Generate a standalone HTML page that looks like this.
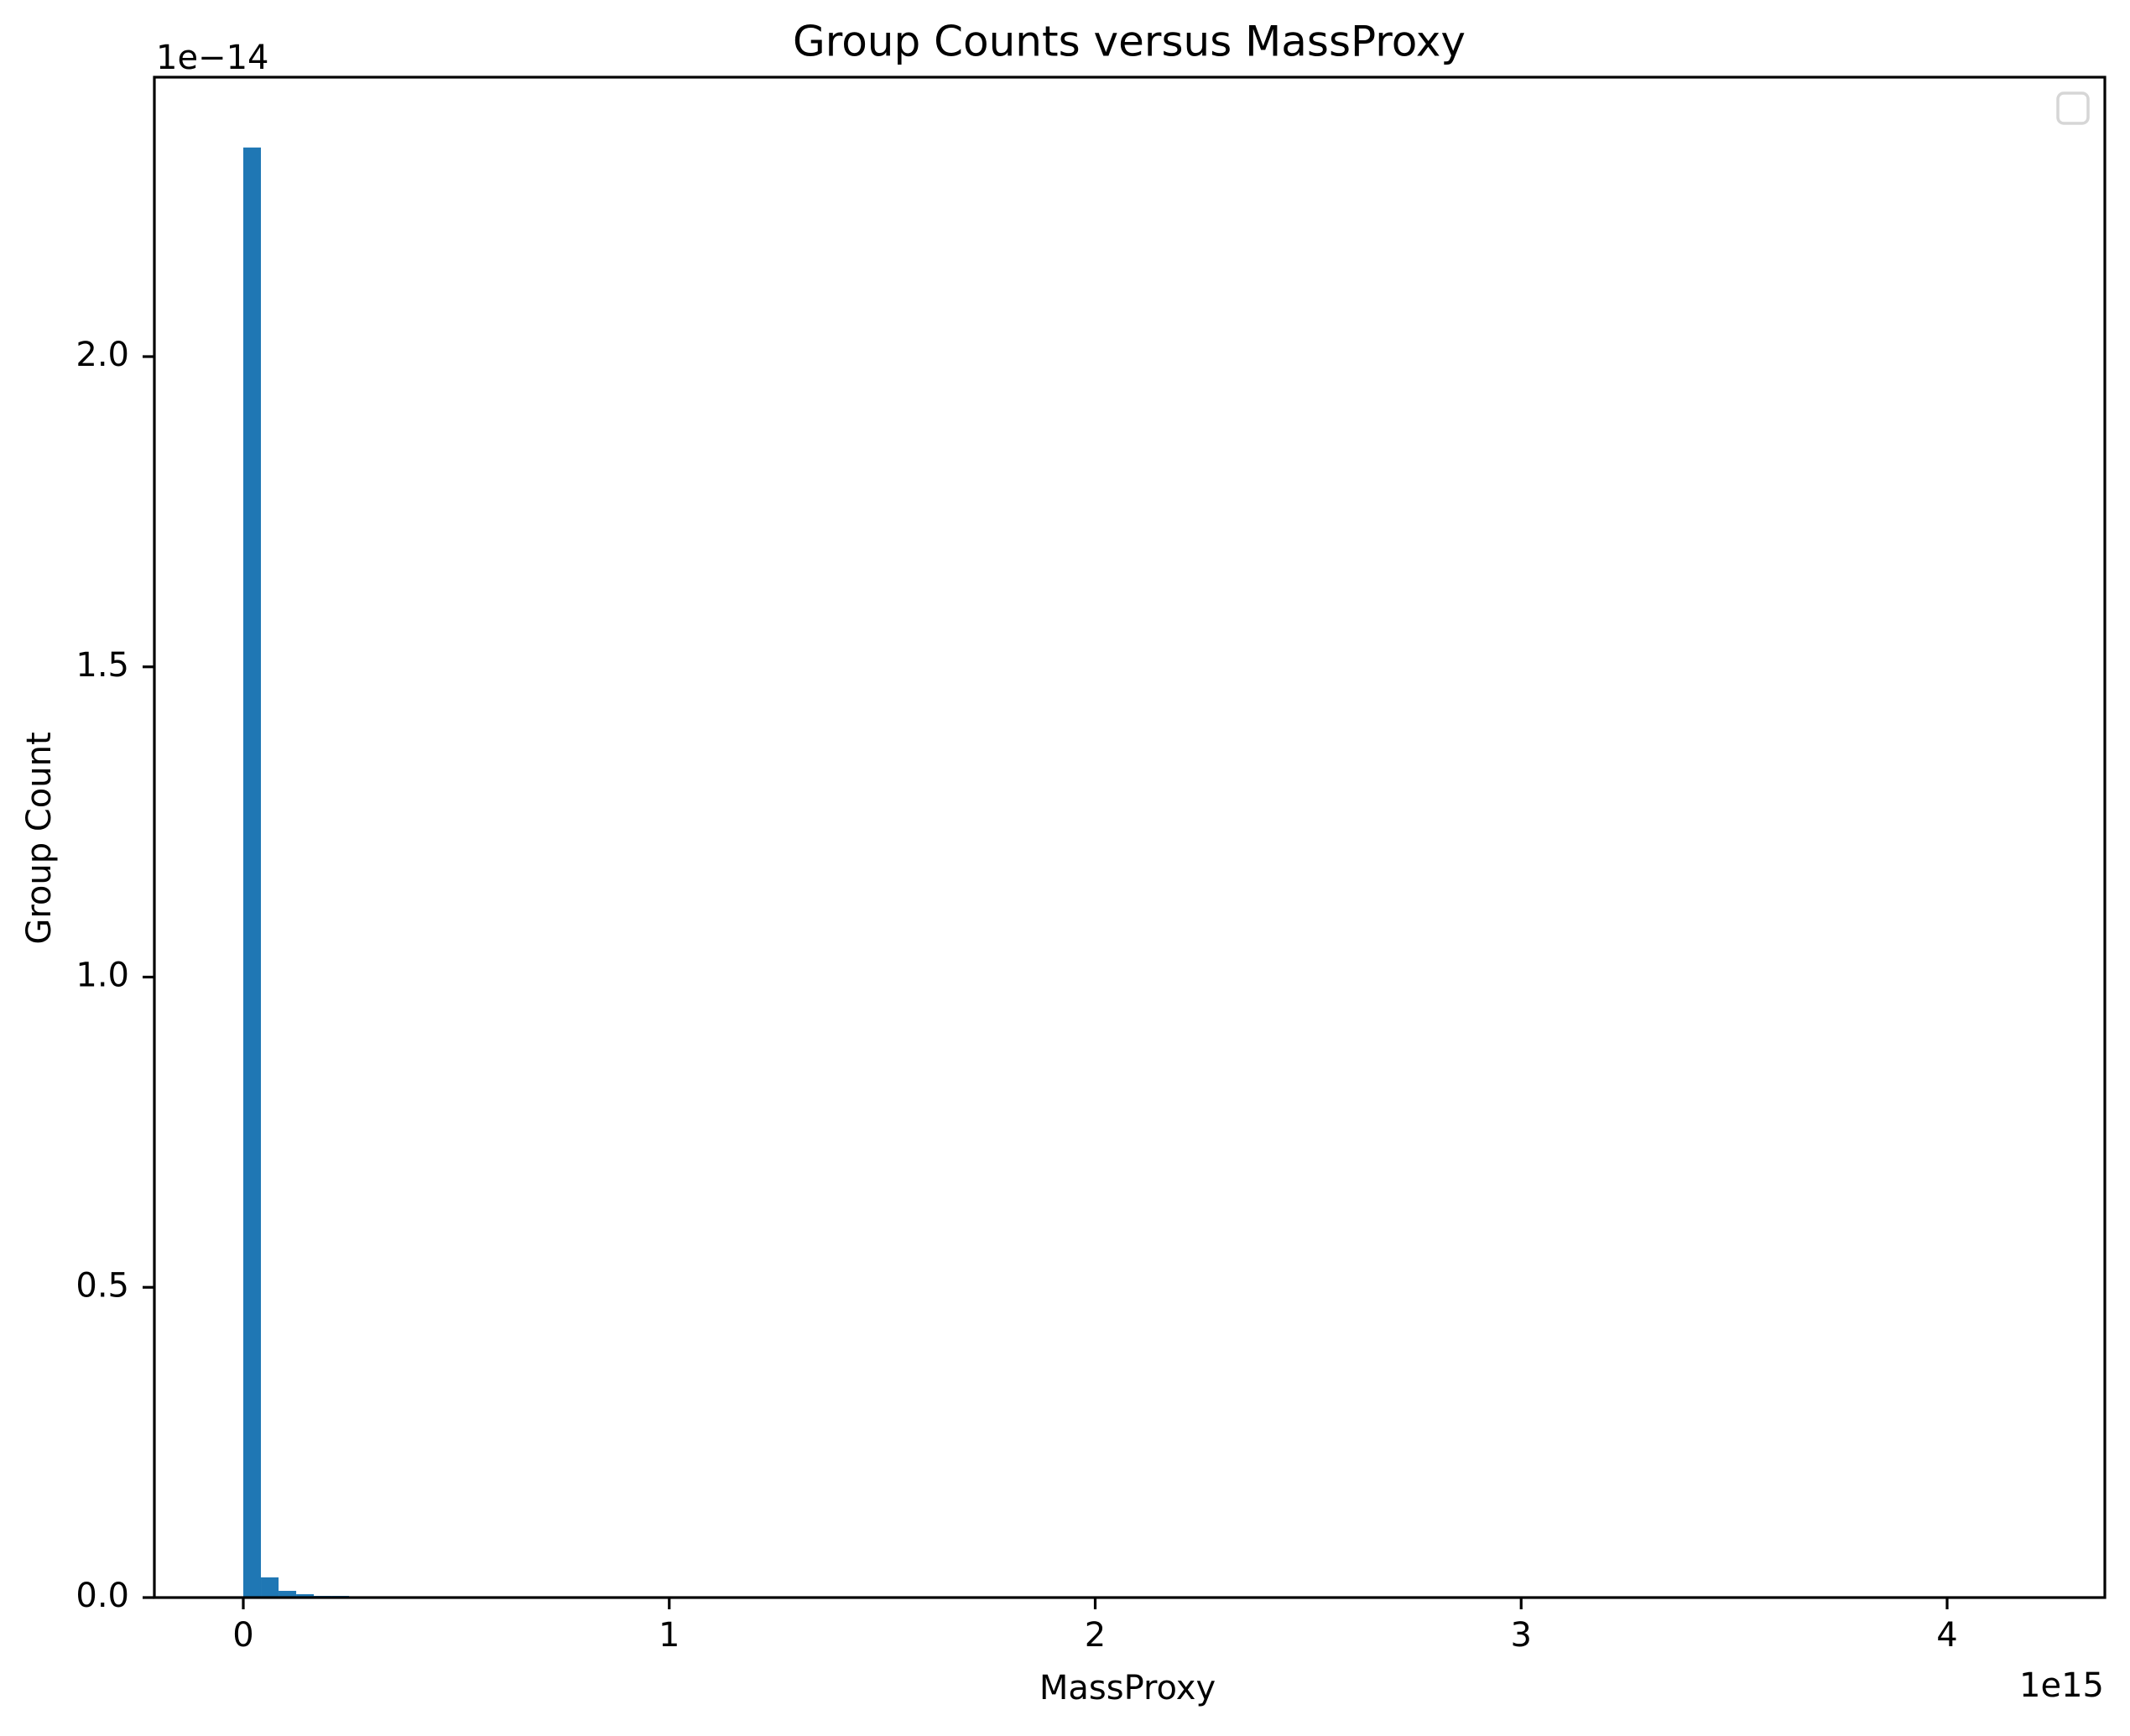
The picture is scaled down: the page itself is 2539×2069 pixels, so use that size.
<!DOCTYPE html>
<html><head><meta charset="utf-8"><style>
html,body{margin:0;padding:0;background:#fff}
svg text{font-family:"DejaVu Sans","Liberation Sans",sans-serif;fill:#000}
</style></head><body>
<svg id="chart" width="2539" height="2064" viewBox="0 0 2539 2064" xmlns="http://www.w3.org/2000/svg">
<rect x="0" y="0" width="2539" height="2064" fill="#fff"/>
<g id="bars"></g>
<g id="axes"></g>
<text x="1346" y="53" font-size="50" text-anchor="middle" dominant-baseline="middle">Group Counts versus MassProxy</text>
<text x="1344" y="2014" font-size="40" text-anchor="middle" dominant-baseline="middle">MassProxy</text>
<text x="49" y="999" font-size="40" text-anchor="middle" dominant-baseline="middle" transform="rotate(-90 49 999)">Group Count</text>
<text x="186" y="82" font-size="40">1e−14</text>
<text x="2508" y="2022" font-size="40" text-anchor="end">1e15</text>
<rect x="2453" y="111" width="36" height="36" rx="7" fill="#fff" stroke="#d6d6d6" stroke-width="3.5"/>
</svg>
<script>
const binStarts = [0, 0.0414, 0.0828, 0.1242, 0.1656, 0.207];
const binWidth = 0.0414;
const counts = [2.337, 0.0325, 0.0108, 0.0054, 0.0027, 0.0027];
const xTicks = [0, 1, 2, 3, 4];
const xTickLabels = ["0", "1", "2", "3", "4"];
const yTicks = [0, 0.5, 1.0, 1.5, 2.0];
const yTickLabels = ["0.0", "0.5", "1.0", "1.5", "2.0"];

const L = 184, R = 2509, T = 92, B = 1904;
const xs = v => 290 + v * 507.75;
const ys = v => 1904 - v * 739.5;
const NS = "http://www.w3.org/2000/svg";
const barsG = document.getElementById('bars');
const axesG = document.getElementById('axes');
function mk(tag, attrs, parent) {
  const e = document.createElementNS(NS, tag);
  for (const k in attrs) e.setAttribute(k, attrs[k]);
  parent.appendChild(e);
  return e;
}
counts.forEach((c, i) => {
  const x0 = xs(binStarts[i]), x1 = xs(binStarts[i] + binWidth);
  const r = mk('rect', {x: x0, y: ys(c), width: x1 - x0, height: ys(0) - ys(c), fill: '#1f77b4'}, barsG);
  
  
});
const frame = mk('rect', {x: L, y: T, width: R - L, height: B - T, fill: 'none', stroke: '#000', 'stroke-width': 3.2}, axesG);


xTicks.forEach((v, i) => {
  const x = xs(v);
  const t = mk('line', {x1: x, x2: x, y1: B, y2: B + 14, stroke: '#000', 'stroke-width': 3.2}, axesG);
  
  
  const lb = mk('text', {x: x, y: 1951, 'font-size': 40, 'text-anchor': 'middle', 'dominant-baseline': 'middle'}, axesG);
  lb.textContent = xTickLabels[i];
  
  
});
yTicks.forEach((v, i) => {
  const y = ys(v);
  const t = mk('line', {x1: L - 14, x2: L, y1: y, y2: y, stroke: '#000', 'stroke-width': 3.2}, axesG);
  
  
  const lb = mk('text', {x: 154, y: y, 'font-size': 40, 'text-anchor': 'end', 'dominant-baseline': 'middle'}, axesG);
  lb.textContent = yTickLabels[i];
  
  
});
</script>
</body></html>
